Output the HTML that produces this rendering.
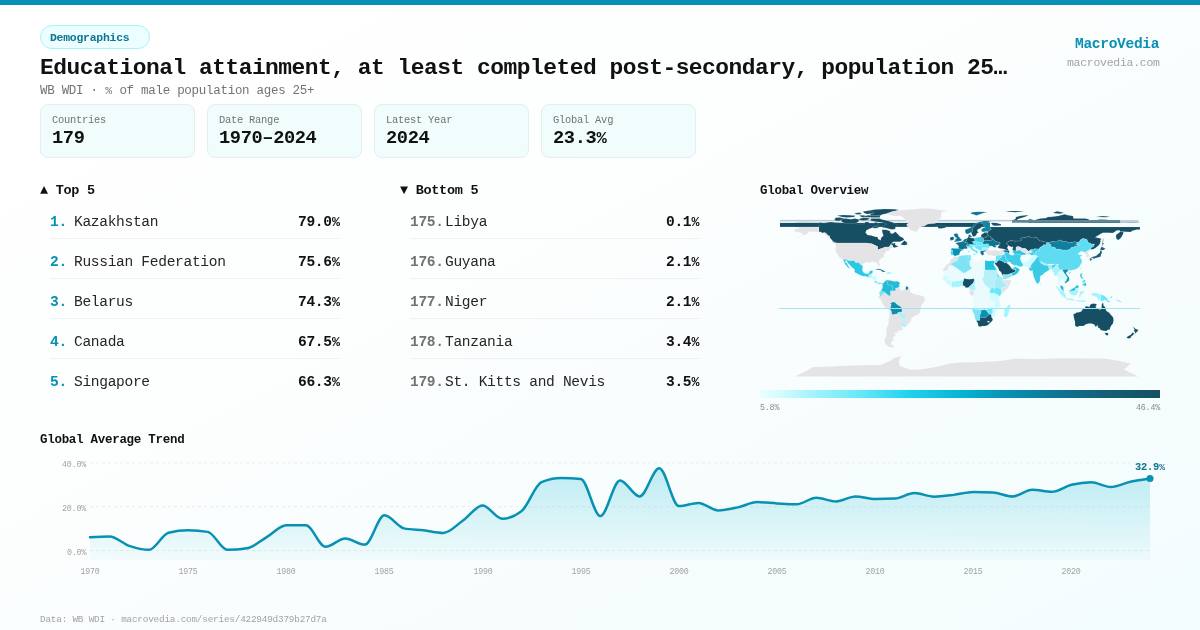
<!DOCTYPE html>
<html><head><meta charset="utf-8"><title>MacroVedia</title>
<style>
html,body{margin:0;padding:0;}
.t{will-change:transform;}
body{width:1200px;height:630px;overflow:hidden;position:relative;font-family:"Liberation Mono";background:linear-gradient(to bottom right,#ffffff 0%,#fdfefe 40%,#f8fdfd 60%,#f3fcfd 100%);}
</style></head><body>
<div style="position:absolute;left:0;top:0;width:1200px;height:5px;background:#0891b2"></div>
<div style="position:absolute;left:40px;top:25px;width:108px;height:22px;border:1px solid #a5f3fc;border-radius:12px;background:#ecfeff"></div>
<div class="t" style="position:absolute;top:32.24px;font-size:11.44px;line-height:11.44px;letter-spacing:-0.243px;color:#0e7490;font-weight:700;white-space:pre;left:50.00px;">Demographics</div>
<div class="t" style="position:absolute;top:56.97px;font-size:22.88px;line-height:22.88px;letter-spacing:-0.485px;color:#111111;font-weight:700;white-space:pre;left:40.00px;">Educational attainment, at least completed post-secondary, population 25…</div>
<div class="t" style="position:absolute;top:85.24px;font-size:12.48px;line-height:12.48px;letter-spacing:-0.265px;color:#737373;font-weight:400;white-space:pre;left:40.00px;">WB WDI · <span style="display:inline-block;width:7.22px;font-size:11.48px;letter-spacing:0;text-align:center">%</span> of male population ages 25+</div>
<div class="t" style="position:absolute;top:36.85px;font-size:14.56px;line-height:14.56px;letter-spacing:-0.309px;color:#0891b2;font-weight:700;white-space:pre;right:40.31px;">MacroVedia</div>
<div class="t" style="position:absolute;top:57.24px;font-size:11.44px;line-height:11.44px;letter-spacing:-0.243px;color:#a3a3a3;font-weight:400;white-space:pre;right:40.24px;">macrovedia.com</div>
<div style="position:absolute;left:39.6px;top:104.3px;width:153.4px;height:51.4px;border:1px solid #e4eeee;border-radius:8px;background:#f0fdfc"></div>
<div class="t" style="position:absolute;top:115.03px;font-size:10.40px;line-height:10.40px;letter-spacing:-0.221px;color:#737373;font-weight:400;white-space:pre;left:52.00px;">Countries</div>
<div class="t" style="position:absolute;top:128.66px;font-size:18.72px;line-height:18.72px;letter-spacing:-0.397px;color:#111111;font-weight:700;white-space:pre;left:52.00px;">179</div>
<div style="position:absolute;left:206.6px;top:104.3px;width:153.4px;height:51.4px;border:1px solid #e4eeee;border-radius:8px;background:#f0fdfc"></div>
<div class="t" style="position:absolute;top:115.03px;font-size:10.40px;line-height:10.40px;letter-spacing:-0.221px;color:#737373;font-weight:400;white-space:pre;left:219.00px;">Date Range</div>
<div class="t" style="position:absolute;top:128.66px;font-size:18.72px;line-height:18.72px;letter-spacing:-0.397px;color:#111111;font-weight:700;white-space:pre;left:219.00px;">1970–2024</div>
<div style="position:absolute;left:373.6px;top:104.3px;width:153.4px;height:51.4px;border:1px solid #e4eeee;border-radius:8px;background:#f0fdfc"></div>
<div class="t" style="position:absolute;top:115.03px;font-size:10.40px;line-height:10.40px;letter-spacing:-0.221px;color:#737373;font-weight:400;white-space:pre;left:386.00px;">Latest Year</div>
<div class="t" style="position:absolute;top:128.66px;font-size:18.72px;line-height:18.72px;letter-spacing:-0.397px;color:#111111;font-weight:700;white-space:pre;left:386.00px;">2024</div>
<div style="position:absolute;left:540.6px;top:104.3px;width:153.4px;height:51.4px;border:1px solid #e4eeee;border-radius:8px;background:#f0fdfc"></div>
<div class="t" style="position:absolute;top:115.03px;font-size:10.40px;line-height:10.40px;letter-spacing:-0.221px;color:#737373;font-weight:400;white-space:pre;left:553.00px;">Global Avg</div>
<div class="t" style="position:absolute;top:128.66px;font-size:18.72px;line-height:18.72px;letter-spacing:-0.397px;color:#111111;font-weight:700;white-space:pre;left:553.00px;">23.3<span style="display:inline-block;width:10.84px;font-size:17.22px;letter-spacing:0;text-align:center">%</span></div>
<div class="t" style="position:absolute;top:183.64px;font-size:13.52px;line-height:13.52px;letter-spacing:-0.287px;color:#111111;font-weight:700;white-space:pre;left:40.00px;">▲ Top 5</div>
<div class="t" style="position:absolute;top:183.64px;font-size:13.52px;line-height:13.52px;letter-spacing:-0.287px;color:#111111;font-weight:700;white-space:pre;left:400.00px;">▼ Bottom 5</div>
<div class="t" style="position:absolute;top:214.85px;font-size:14.56px;line-height:14.56px;letter-spacing:-0.309px;color:#0891b2;font-weight:700;white-space:pre;left:50.00px;">1.</div>
<div class="t" style="position:absolute;top:214.85px;font-size:14.56px;line-height:14.56px;letter-spacing:-0.309px;color:#262626;font-weight:400;white-space:pre;left:74.00px;">Kazakhstan</div>
<div class="t" style="position:absolute;top:214.85px;font-size:14.56px;line-height:14.56px;letter-spacing:-0.309px;color:#111111;font-weight:700;white-space:pre;right:860.31px;">79.0<span style="display:inline-block;width:8.43px;font-size:13.40px;letter-spacing:0;text-align:center">%</span></div>
<div style="position:absolute;left:50px;top:237.5px;width:290px;height:1px;background:#f1f1f1"></div>
<div class="t" style="position:absolute;top:254.85px;font-size:14.56px;line-height:14.56px;letter-spacing:-0.309px;color:#0891b2;font-weight:700;white-space:pre;left:50.00px;">2.</div>
<div class="t" style="position:absolute;top:254.85px;font-size:14.56px;line-height:14.56px;letter-spacing:-0.309px;color:#262626;font-weight:400;white-space:pre;left:74.00px;">Russian Federation</div>
<div class="t" style="position:absolute;top:254.85px;font-size:14.56px;line-height:14.56px;letter-spacing:-0.309px;color:#111111;font-weight:700;white-space:pre;right:860.31px;">75.6<span style="display:inline-block;width:8.43px;font-size:13.40px;letter-spacing:0;text-align:center">%</span></div>
<div style="position:absolute;left:50px;top:277.5px;width:290px;height:1px;background:#f1f1f1"></div>
<div class="t" style="position:absolute;top:294.85px;font-size:14.56px;line-height:14.56px;letter-spacing:-0.309px;color:#0891b2;font-weight:700;white-space:pre;left:50.00px;">3.</div>
<div class="t" style="position:absolute;top:294.85px;font-size:14.56px;line-height:14.56px;letter-spacing:-0.309px;color:#262626;font-weight:400;white-space:pre;left:74.00px;">Belarus</div>
<div class="t" style="position:absolute;top:294.85px;font-size:14.56px;line-height:14.56px;letter-spacing:-0.309px;color:#111111;font-weight:700;white-space:pre;right:860.31px;">74.3<span style="display:inline-block;width:8.43px;font-size:13.40px;letter-spacing:0;text-align:center">%</span></div>
<div style="position:absolute;left:50px;top:317.5px;width:290px;height:1px;background:#f1f1f1"></div>
<div class="t" style="position:absolute;top:334.85px;font-size:14.56px;line-height:14.56px;letter-spacing:-0.309px;color:#0891b2;font-weight:700;white-space:pre;left:50.00px;">4.</div>
<div class="t" style="position:absolute;top:334.85px;font-size:14.56px;line-height:14.56px;letter-spacing:-0.309px;color:#262626;font-weight:400;white-space:pre;left:74.00px;">Canada</div>
<div class="t" style="position:absolute;top:334.85px;font-size:14.56px;line-height:14.56px;letter-spacing:-0.309px;color:#111111;font-weight:700;white-space:pre;right:860.31px;">67.5<span style="display:inline-block;width:8.43px;font-size:13.40px;letter-spacing:0;text-align:center">%</span></div>
<div style="position:absolute;left:50px;top:357.5px;width:290px;height:1px;background:#f1f1f1"></div>
<div class="t" style="position:absolute;top:374.85px;font-size:14.56px;line-height:14.56px;letter-spacing:-0.309px;color:#0891b2;font-weight:700;white-space:pre;left:50.00px;">5.</div>
<div class="t" style="position:absolute;top:374.85px;font-size:14.56px;line-height:14.56px;letter-spacing:-0.309px;color:#262626;font-weight:400;white-space:pre;left:74.00px;">Singapore</div>
<div class="t" style="position:absolute;top:374.85px;font-size:14.56px;line-height:14.56px;letter-spacing:-0.309px;color:#111111;font-weight:700;white-space:pre;right:860.31px;">66.3<span style="display:inline-block;width:8.43px;font-size:13.40px;letter-spacing:0;text-align:center">%</span></div>
<div class="t" style="position:absolute;top:214.85px;font-size:14.56px;line-height:14.56px;letter-spacing:-0.309px;color:#737373;font-weight:700;white-space:pre;left:410.00px;">175.</div>
<div class="t" style="position:absolute;top:214.85px;font-size:14.56px;line-height:14.56px;letter-spacing:-0.309px;color:#262626;font-weight:400;white-space:pre;left:445.22px;">Libya</div>
<div class="t" style="position:absolute;top:214.85px;font-size:14.56px;line-height:14.56px;letter-spacing:-0.309px;color:#111111;font-weight:700;white-space:pre;right:500.31px;">0.1<span style="display:inline-block;width:8.43px;font-size:13.40px;letter-spacing:0;text-align:center">%</span></div>
<div style="position:absolute;left:410px;top:237.5px;width:290px;height:1px;background:#f1f1f1"></div>
<div class="t" style="position:absolute;top:254.85px;font-size:14.56px;line-height:14.56px;letter-spacing:-0.309px;color:#737373;font-weight:700;white-space:pre;left:410.00px;">176.</div>
<div class="t" style="position:absolute;top:254.85px;font-size:14.56px;line-height:14.56px;letter-spacing:-0.309px;color:#262626;font-weight:400;white-space:pre;left:445.22px;">Guyana</div>
<div class="t" style="position:absolute;top:254.85px;font-size:14.56px;line-height:14.56px;letter-spacing:-0.309px;color:#111111;font-weight:700;white-space:pre;right:500.31px;">2.1<span style="display:inline-block;width:8.43px;font-size:13.40px;letter-spacing:0;text-align:center">%</span></div>
<div style="position:absolute;left:410px;top:277.5px;width:290px;height:1px;background:#f1f1f1"></div>
<div class="t" style="position:absolute;top:294.85px;font-size:14.56px;line-height:14.56px;letter-spacing:-0.309px;color:#737373;font-weight:700;white-space:pre;left:410.00px;">177.</div>
<div class="t" style="position:absolute;top:294.85px;font-size:14.56px;line-height:14.56px;letter-spacing:-0.309px;color:#262626;font-weight:400;white-space:pre;left:445.22px;">Niger</div>
<div class="t" style="position:absolute;top:294.85px;font-size:14.56px;line-height:14.56px;letter-spacing:-0.309px;color:#111111;font-weight:700;white-space:pre;right:500.31px;">2.1<span style="display:inline-block;width:8.43px;font-size:13.40px;letter-spacing:0;text-align:center">%</span></div>
<div style="position:absolute;left:410px;top:317.5px;width:290px;height:1px;background:#f1f1f1"></div>
<div class="t" style="position:absolute;top:334.85px;font-size:14.56px;line-height:14.56px;letter-spacing:-0.309px;color:#737373;font-weight:700;white-space:pre;left:410.00px;">178.</div>
<div class="t" style="position:absolute;top:334.85px;font-size:14.56px;line-height:14.56px;letter-spacing:-0.309px;color:#262626;font-weight:400;white-space:pre;left:445.22px;">Tanzania</div>
<div class="t" style="position:absolute;top:334.85px;font-size:14.56px;line-height:14.56px;letter-spacing:-0.309px;color:#111111;font-weight:700;white-space:pre;right:500.31px;">3.4<span style="display:inline-block;width:8.43px;font-size:13.40px;letter-spacing:0;text-align:center">%</span></div>
<div style="position:absolute;left:410px;top:357.5px;width:290px;height:1px;background:#f1f1f1"></div>
<div class="t" style="position:absolute;top:374.85px;font-size:14.56px;line-height:14.56px;letter-spacing:-0.309px;color:#737373;font-weight:700;white-space:pre;left:410.00px;">179.</div>
<div class="t" style="position:absolute;top:374.85px;font-size:14.56px;line-height:14.56px;letter-spacing:-0.309px;color:#262626;font-weight:400;white-space:pre;left:445.22px;">St. Kitts and Nevis</div>
<div class="t" style="position:absolute;top:374.85px;font-size:14.56px;line-height:14.56px;letter-spacing:-0.309px;color:#111111;font-weight:700;white-space:pre;right:500.31px;">3.5<span style="display:inline-block;width:8.43px;font-size:13.40px;letter-spacing:0;text-align:center">%</span></div>
<div class="t" style="position:absolute;top:185.44px;font-size:12.48px;line-height:12.48px;letter-spacing:-0.265px;color:#111111;font-weight:700;white-space:pre;left:760.00px;">Global Overview</div>
<div style="position:absolute;left:760px;top:390px;width:400px;height:8px;background:linear-gradient(90deg,#ecfeff 0%,#cffafe 6%,#a5f3fc 13%,#67e8f9 25%,#22d3ee 37%,#06b6d4 50%,#0891b2 62%,#0e7490 75%,#155e75 87%,#164e63 100%)"></div>
<div class="t" style="position:absolute;top:403.63px;font-size:8.32px;line-height:8.32px;letter-spacing:-0.176px;color:#8a8a8a;font-weight:400;white-space:pre;left:760.00px;">5.8%</div>
<div class="t" style="position:absolute;top:403.63px;font-size:8.32px;line-height:8.32px;letter-spacing:-0.176px;color:#8a8a8a;font-weight:400;white-space:pre;right:40.18px;">46.4%</div>
<div class="t" style="position:absolute;top:434.44px;font-size:12.48px;line-height:12.48px;letter-spacing:-0.265px;color:#111111;font-weight:700;white-space:pre;left:40.00px;">Global Average Trend</div>
<svg style="position:absolute;left:0;top:0" width="1200" height="630" viewBox="0 0 1200 630">
<defs><linearGradient id="ag" x1="0" y1="0" x2="0" y2="1"><stop offset="0" stop-color="#06b6d4" stop-opacity="0.24"/><stop offset="1" stop-color="#06b6d4" stop-opacity="0.03"/></linearGradient></defs>
<line x1="90" x2="1150" y1="550.5" y2="550.5" stroke="#ebebeb" stroke-width="1" stroke-dasharray="3,3"/>
<line x1="90" x2="1150" y1="506.7" y2="506.7" stroke="#ebebeb" stroke-width="1" stroke-dasharray="3,3"/>
<line x1="90" x2="1150" y1="462.9" y2="462.9" stroke="#ebebeb" stroke-width="1" stroke-dasharray="3,3"/>
<path d="M90.00,537.14C96.54,536.81,103.09,536.48,109.63,536.48C116.17,536.48,122.72,543.67,129.26,545.90C135.80,548.13,142.35,549.84,148.89,549.84C155.43,549.84,161.98,534.37,168.52,532.76C175.06,531.15,181.60,530.35,188.15,530.35C194.69,530.35,201.23,530.86,207.78,531.88C214.32,532.91,220.86,549.84,227.41,549.84C233.95,549.84,240.49,549.33,247.04,548.31C253.58,547.29,260.12,540.97,266.67,537.14C273.21,533.31,279.75,525.32,286.30,525.32C292.84,525.32,299.38,525.32,305.93,525.32C312.47,525.32,319.01,546.78,325.56,546.78C332.10,546.78,338.64,538.46,345.19,538.46C351.73,538.46,358.27,544.59,364.81,544.59C371.36,544.59,377.90,515.24,384.44,515.24C390.99,515.24,397.53,527.07,404.07,528.38C410.62,529.69,417.16,529.59,423.70,530.35C430.25,531.12,436.79,532.98,443.33,532.98C449.88,532.98,456.42,525.06,462.96,520.50C469.51,515.93,476.05,505.61,482.59,505.61C489.14,505.61,495.68,518.75,502.22,518.75C508.77,518.75,515.31,516.12,521.85,510.86C528.40,505.60,534.94,484.95,541.48,482.17C548.02,479.40,554.57,478.01,561.11,478.01C567.65,478.01,574.20,478.30,580.74,478.89C587.28,479.47,593.83,516.12,600.37,516.12C606.91,516.12,613.46,480.42,620.00,480.42C626.54,480.42,633.09,496.41,639.63,496.41C646.17,496.41,652.72,468.16,659.26,468.16C665.80,468.16,672.35,506.04,678.89,506.04C685.43,506.04,691.98,502.98,698.52,502.98C705.06,502.98,711.60,510.42,718.15,510.42C724.69,510.42,731.23,508.74,737.78,507.36C744.32,505.97,750.86,502.10,757.41,502.10C763.95,502.10,770.49,503.05,777.04,503.42C783.58,503.78,790.12,504.29,796.67,504.29C803.21,504.29,809.75,497.72,816.30,497.72C822.84,497.72,829.38,501.44,835.93,501.44C842.47,501.44,849.01,496.41,855.56,496.41C862.10,496.41,868.64,499.04,875.19,499.04C881.73,499.04,888.27,498.89,894.81,498.60C901.36,498.30,907.90,493.12,914.44,493.12C920.99,493.12,927.53,496.63,934.07,496.63C940.62,496.63,947.16,495.64,953.70,494.87C960.25,494.11,966.79,492.03,973.33,492.03C979.88,492.03,986.42,492.17,992.96,492.47C999.51,492.76,1006.05,496.41,1012.59,496.41C1019.14,496.41,1025.68,489.84,1032.22,489.84C1038.77,489.84,1045.31,491.81,1051.85,491.81C1058.40,491.81,1064.94,486.41,1071.48,484.80C1078.02,483.19,1084.57,482.17,1091.11,482.17C1097.65,482.17,1104.20,486.99,1110.74,486.99C1117.28,486.99,1123.83,483.16,1130.37,481.73C1136.91,480.31,1143.46,479.38,1150.00,478.45L1150,560L90,560Z" fill="url(#ag)"/>
<path d="M90.00,537.14C96.54,536.81,103.09,536.48,109.63,536.48C116.17,536.48,122.72,543.67,129.26,545.90C135.80,548.13,142.35,549.84,148.89,549.84C155.43,549.84,161.98,534.37,168.52,532.76C175.06,531.15,181.60,530.35,188.15,530.35C194.69,530.35,201.23,530.86,207.78,531.88C214.32,532.91,220.86,549.84,227.41,549.84C233.95,549.84,240.49,549.33,247.04,548.31C253.58,547.29,260.12,540.97,266.67,537.14C273.21,533.31,279.75,525.32,286.30,525.32C292.84,525.32,299.38,525.32,305.93,525.32C312.47,525.32,319.01,546.78,325.56,546.78C332.10,546.78,338.64,538.46,345.19,538.46C351.73,538.46,358.27,544.59,364.81,544.59C371.36,544.59,377.90,515.24,384.44,515.24C390.99,515.24,397.53,527.07,404.07,528.38C410.62,529.69,417.16,529.59,423.70,530.35C430.25,531.12,436.79,532.98,443.33,532.98C449.88,532.98,456.42,525.06,462.96,520.50C469.51,515.93,476.05,505.61,482.59,505.61C489.14,505.61,495.68,518.75,502.22,518.75C508.77,518.75,515.31,516.12,521.85,510.86C528.40,505.60,534.94,484.95,541.48,482.17C548.02,479.40,554.57,478.01,561.11,478.01C567.65,478.01,574.20,478.30,580.74,478.89C587.28,479.47,593.83,516.12,600.37,516.12C606.91,516.12,613.46,480.42,620.00,480.42C626.54,480.42,633.09,496.41,639.63,496.41C646.17,496.41,652.72,468.16,659.26,468.16C665.80,468.16,672.35,506.04,678.89,506.04C685.43,506.04,691.98,502.98,698.52,502.98C705.06,502.98,711.60,510.42,718.15,510.42C724.69,510.42,731.23,508.74,737.78,507.36C744.32,505.97,750.86,502.10,757.41,502.10C763.95,502.10,770.49,503.05,777.04,503.42C783.58,503.78,790.12,504.29,796.67,504.29C803.21,504.29,809.75,497.72,816.30,497.72C822.84,497.72,829.38,501.44,835.93,501.44C842.47,501.44,849.01,496.41,855.56,496.41C862.10,496.41,868.64,499.04,875.19,499.04C881.73,499.04,888.27,498.89,894.81,498.60C901.36,498.30,907.90,493.12,914.44,493.12C920.99,493.12,927.53,496.63,934.07,496.63C940.62,496.63,947.16,495.64,953.70,494.87C960.25,494.11,966.79,492.03,973.33,492.03C979.88,492.03,986.42,492.17,992.96,492.47C999.51,492.76,1006.05,496.41,1012.59,496.41C1019.14,496.41,1025.68,489.84,1032.22,489.84C1038.77,489.84,1045.31,491.81,1051.85,491.81C1058.40,491.81,1064.94,486.41,1071.48,484.80C1078.02,483.19,1084.57,482.17,1091.11,482.17C1097.65,482.17,1104.20,486.99,1110.74,486.99C1117.28,486.99,1123.83,483.16,1130.37,481.73C1136.91,480.31,1143.46,479.38,1150.00,478.45" fill="none" stroke="#0891b2" stroke-width="2.5" stroke-linejoin="round" stroke-linecap="round"/>
<circle cx="1150.00" cy="478.45" r="3.5" fill="#0891b2"/>
</svg>
<div class="t" style="position:absolute;top:548.73px;font-size:8.32px;line-height:8.32px;letter-spacing:-0.176px;color:#a3a3a3;font-weight:400;white-space:pre;right:1114.18px;">0.0%</div>
<div class="t" style="position:absolute;top:504.93px;font-size:8.32px;line-height:8.32px;letter-spacing:-0.176px;color:#a3a3a3;font-weight:400;white-space:pre;right:1114.18px;">20.0%</div>
<div class="t" style="position:absolute;top:461.13px;font-size:8.32px;line-height:8.32px;letter-spacing:-0.176px;color:#a3a3a3;font-weight:400;white-space:pre;right:1114.18px;">40.0%</div>
<div class="t" style="position:absolute;top:567.63px;font-size:8.32px;line-height:8.32px;letter-spacing:-0.176px;color:#a3a3a3;font-weight:400;white-space:pre;left:-510.00px;width:1200px;text-align:center;">1970</div>
<div class="t" style="position:absolute;top:567.63px;font-size:8.32px;line-height:8.32px;letter-spacing:-0.176px;color:#a3a3a3;font-weight:400;white-space:pre;left:-411.85px;width:1200px;text-align:center;">1975</div>
<div class="t" style="position:absolute;top:567.63px;font-size:8.32px;line-height:8.32px;letter-spacing:-0.176px;color:#a3a3a3;font-weight:400;white-space:pre;left:-313.70px;width:1200px;text-align:center;">1980</div>
<div class="t" style="position:absolute;top:567.63px;font-size:8.32px;line-height:8.32px;letter-spacing:-0.176px;color:#a3a3a3;font-weight:400;white-space:pre;left:-215.56px;width:1200px;text-align:center;">1985</div>
<div class="t" style="position:absolute;top:567.63px;font-size:8.32px;line-height:8.32px;letter-spacing:-0.176px;color:#a3a3a3;font-weight:400;white-space:pre;left:-117.41px;width:1200px;text-align:center;">1990</div>
<div class="t" style="position:absolute;top:567.63px;font-size:8.32px;line-height:8.32px;letter-spacing:-0.176px;color:#a3a3a3;font-weight:400;white-space:pre;left:-19.26px;width:1200px;text-align:center;">1995</div>
<div class="t" style="position:absolute;top:567.63px;font-size:8.32px;line-height:8.32px;letter-spacing:-0.176px;color:#a3a3a3;font-weight:400;white-space:pre;left:78.89px;width:1200px;text-align:center;">2000</div>
<div class="t" style="position:absolute;top:567.63px;font-size:8.32px;line-height:8.32px;letter-spacing:-0.176px;color:#a3a3a3;font-weight:400;white-space:pre;left:177.04px;width:1200px;text-align:center;">2005</div>
<div class="t" style="position:absolute;top:567.63px;font-size:8.32px;line-height:8.32px;letter-spacing:-0.176px;color:#a3a3a3;font-weight:400;white-space:pre;left:275.19px;width:1200px;text-align:center;">2010</div>
<div class="t" style="position:absolute;top:567.63px;font-size:8.32px;line-height:8.32px;letter-spacing:-0.176px;color:#a3a3a3;font-weight:400;white-space:pre;left:373.33px;width:1200px;text-align:center;">2015</div>
<div class="t" style="position:absolute;top:567.63px;font-size:8.32px;line-height:8.32px;letter-spacing:-0.176px;color:#a3a3a3;font-weight:400;white-space:pre;left:471.48px;width:1200px;text-align:center;">2020</div>
<div class="t" style="position:absolute;top:462.03px;font-size:10.40px;line-height:10.40px;letter-spacing:-0.221px;color:#0e7490;font-weight:700;white-space:pre;left:550.00px;width:1200px;text-align:center;">32.9<span style="display:inline-block;width:6.02px;font-size:9.57px;letter-spacing:0;text-align:center">%</span></div>
<div class="t" style="position:absolute;top:614.83px;font-size:9.36px;line-height:9.36px;letter-spacing:-0.198px;color:#a3a3a3;font-weight:400;white-space:pre;left:40.00px;">Data: WB WDI · macrovedia.com/series/422949d379b27d7a</div>

<svg style="position:absolute;left:0;top:0" width="1200" height="630" viewBox="0 0 1200 630">
<path d="M819.0,222.4L817.0,221.9L812.0,221.7L808.0,221.2L803.5,220.7L800.0,221.5L797.0,222.2L794.0,223.1L796.5,224.9L795.0,225.5L792.0,226.4L795.5,227.3L799.0,227.5L799.0,228.5L795.5,229.0L794.0,230.5L795.0,231.5L798.0,232.1L802.0,233.3L803.0,234.5L802.0,235.2L798.0,236.2L795.2,237.5L799.0,236.5L804.0,235.0L806.5,234.5L807.0,233.2L808.5,232.5L810.0,231.0L811.0,232.0L813.5,231.6L816.0,232.0L819.0,232.0L822.0,233.0L824.0,233.7L826.0,235.0L827.0,236.5L828.5,237.0L829.9,237.2L830.0,236.1L828.2,235.4L826.5,233.6L824.5,232.3L822.5,232.9L821.0,231.9L819.0,231.7Z" fill="#e4e4e7" stroke="#ffffff" stroke-width="0.3" stroke-opacity="0.4"/>
<rect x="780.00" y="222.90" width="210.00" height="4.00" fill="#164e63"/>
<rect x="780.00" y="219.90" width="232.00" height="1.50" fill="#b9cbd2"/>
<path d="M819.0,222.4L824.0,223.1L827.0,222.5L831.0,222.0L835.0,222.5L840.0,222.7L845.0,223.2L850.0,223.8L854.0,223.2L859.0,224.3L862.0,224.0L864.0,224.0L865.5,222.0L868.0,222.0L870.0,223.5L874.0,223.5L875.5,222.2L878.0,223.0L878.7,225.0L874.0,226.0L873.0,227.4L869.5,228.7L866.5,230.2L865.5,232.5L867.5,235.0L871.5,235.5L875.0,236.7L877.7,237.0L878.0,239.0L880.7,240.3L881.0,238.0L883.5,235.5L882.5,233.0L882.0,229.7L886.0,229.7L890.0,231.0L890.5,233.2L892.5,233.7L895.5,231.7L898.2,234.5L900.0,236.5L902.5,237.4L904.3,239.5L903.0,240.5L900.0,241.8L893.5,241.8L891.0,243.6L895.5,243.0L895.0,244.0L895.3,245.0L898.5,246.5L894.0,247.8L893.0,246.8L892.2,244.9L890.8,244.6L889.0,247.0L885.0,247.0L883.5,247.8L880.5,248.8L877.5,250.0L877.8,246.7L875.5,245.5L871.6,243.7L864.8,243.0L837.0,243.0L835.5,242.5L833.0,241.5L831.5,239.5L829.5,237.5L829.9,237.2L830.0,236.1L828.2,235.4L826.5,233.6L824.5,232.3L822.5,232.9L821.0,231.9L819.0,231.7Z" fill="#164e63" stroke="#ffffff" stroke-width="0.3" stroke-opacity="0.4"/>
<path d="M881.0,219.2L889.0,221.2L893.0,222.5L898.0,225.0L897.5,226.5L895.0,227.5L895.5,229.0L891.5,229.5L888.0,228.4L885.0,227.7L882.0,227.5L884.0,225.5L887.0,224.5L886.5,223.7L882.0,222.5L875.0,221.5L870.5,220.5L871.0,218.5L876.0,218.5L880.0,218.4Z" fill="#164e63" stroke="#ffffff" stroke-width="0.3" stroke-opacity="0.4"/>
<path d="M834.5,220.0L835.5,217.7L839.5,217.6L844.5,218.5L842.0,219.5L839.5,220.7L836.5,220.8Z" fill="#164e63" stroke="#ffffff" stroke-width="0.3" stroke-opacity="0.4"/>
<path d="M841.0,220.5L842.5,219.0L845.5,218.6L851.0,219.2L855.0,218.5L859.0,219.5L858.5,221.5L856.0,223.2L852.0,223.3L847.0,223.5L842.5,222.5Z" fill="#164e63" stroke="#ffffff" stroke-width="0.3" stroke-opacity="0.4"/>
<path d="M837.0,215.5L843.0,215.0L850.0,215.3L855.5,215.7L854.0,217.0L847.0,217.5L842.0,217.0Z" fill="#164e63" stroke="#ffffff" stroke-width="0.3" stroke-opacity="0.4"/>
<path d="M859.0,215.5L863.0,215.2L867.0,216.0L867.0,217.5L862.0,217.2Z" fill="#164e63" stroke="#ffffff" stroke-width="0.3" stroke-opacity="0.4"/>
<path d="M864.0,216.5L868.0,215.2L876.0,215.5L880.0,215.8L880.0,217.4L872.0,217.5L868.0,217.2Z" fill="#164e63" stroke="#ffffff" stroke-width="0.3" stroke-opacity="0.4"/>
<path d="M870.0,215.5L880.0,215.8L882.0,214.5L887.0,213.5L892.0,212.0L899.0,210.0L895.0,209.2L885.0,208.9L875.0,209.5L868.0,210.8L870.0,212.0L874.0,213.0L871.0,213.8Z" fill="#164e63" stroke="#ffffff" stroke-width="0.3" stroke-opacity="0.4"/>
<path d="M863.0,211.5L868.0,210.8L874.0,211.8L873.0,213.5L867.0,214.0L864.0,213.0Z" fill="#164e63" stroke="#ffffff" stroke-width="0.3" stroke-opacity="0.4"/>
<path d="M854.0,213.2L860.0,212.5L862.0,214.0L857.0,214.5Z" fill="#164e63" stroke="#ffffff" stroke-width="0.3" stroke-opacity="0.4"/>
<path d="M858.5,219.2L862.0,218.0L868.0,218.0L870.0,219.0L867.0,220.0L863.5,220.5L860.0,220.0Z" fill="#164e63" stroke="#ffffff" stroke-width="0.3" stroke-opacity="0.4"/>
<path d="M874.0,226.0L879.5,228.0L874.0,228.2L872.7,227.2Z" fill="#164e63" stroke="#ffffff" stroke-width="0.3" stroke-opacity="0.4"/>
<path d="M900.5,244.4L904.5,240.4L907.0,242.5L907.3,244.5L904.5,245.2Z" fill="#164e63" stroke="#ffffff" stroke-width="0.3" stroke-opacity="0.4"/>
<path d="M831.8,241.2L836.7,243.6L834.5,243.1Z" fill="#164e63" stroke="#ffffff" stroke-width="0.3" stroke-opacity="0.4"/>
<path d="M835.3,243.6L836.0,246.0L835.5,250.0L836.2,252.5L837.6,254.5L839.4,257.5L842.9,259.5L845.3,259.3L849.0,260.7L851.8,260.7L853.5,260.2L855.5,262.4L857.0,263.0L858.6,262.2L860.5,264.5L862.8,266.1L862.6,264.2L865.3,262.6L870.0,262.8L871.5,261.6L875.0,262.3L877.0,263.0L877.4,264.5L878.9,266.8L880.0,265.3L879.5,263.5L878.6,261.3L880.8,258.8L884.5,256.7L883.7,255.0L886.0,251.5L890.0,250.3L889.4,248.9L893.0,247.2L892.2,244.9L890.8,244.6L889.0,247.0L885.0,247.0L883.5,247.8L880.5,248.8L877.5,250.0L877.8,246.7L875.5,245.5L871.6,243.7L864.8,243.0L837.0,243.0Z" fill="#e4e4e7" stroke="#ffffff" stroke-width="0.3" stroke-opacity="0.4"/>
<path d="M887.0,213.5L892.0,211.5L899.0,210.2L910.0,209.6L920.0,208.6L932.0,208.5L940.0,210.0L948.0,210.5L942.0,212.0L941.0,215.0L941.5,217.0L938.0,220.0L938.0,221.6L935.0,223.5L928.0,224.0L924.0,226.2L920.0,227.0L918.0,230.0L916.5,232.0L914.0,231.2L911.0,230.5L909.0,228.5L907.5,226.5L906.5,224.5L909.0,222.5L906.0,221.0L905.0,219.5L903.0,217.5L901.0,216.0L893.5,216.0L889.0,214.5Z" fill="#e4e4e7" stroke="#ffffff" stroke-width="0.3" stroke-opacity="0.4"/>
<path d="M935.5,226.5L938.0,225.6L942.0,225.8L945.5,225.8L946.5,227.0L945.0,227.7L941.3,228.6L938.0,228.2L938.0,227.0Z" fill="#164e63" stroke="#ffffff" stroke-width="0.3" stroke-opacity="0.4"/>
<path d="M842.9,259.5L845.3,259.3L849.0,260.7L851.8,260.7L853.5,260.2L855.5,262.4L857.0,263.0L858.6,262.2L860.5,264.5L862.8,266.1L862.3,270.0L863.0,272.0L865.0,273.5L866.0,273.8L868.5,273.5L869.5,272.2L869.7,271.0L872.8,270.5L872.5,273.0L871.7,273.5L870.9,274.2L868.6,274.8L869.1,275.2L867.8,277.5L866.5,276.2L863.5,276.3L861.0,275.4L858.5,274.2L855.0,272.5L854.3,271.2L854.8,269.8L853.5,268.5L851.0,266.5L849.5,264.5L847.8,263.1L847.0,261.0L845.2,260.3L845.5,262.0L847.0,263.5L848.0,265.5L849.5,267.8L850.1,269.1L848.0,267.5L846.0,265.2L845.0,264.0L844.2,261.7Z" fill="#2bc8e3" stroke="#ffffff" stroke-width="0.3" stroke-opacity="0.4"/>
<path d="M867.8,277.5L869.1,275.2L868.6,274.8L870.9,274.2L871.7,273.5L871.8,276.0L870.8,276.9L870.5,278.0L869.5,278.1Z" fill="#a5f3fc" stroke="#ffffff" stroke-width="0.3" stroke-opacity="0.4"/>
<path d="M870.8,276.9L871.8,276.0L876.0,276.0L876.8,277.0L876.5,280.0L876.4,281.1L874.3,280.9L872.5,279.0L870.5,278.0Z" fill="#cffafe" stroke="#ffffff" stroke-width="0.3" stroke-opacity="0.4"/>
<path d="M874.3,280.9L876.4,281.1L878.0,282.8L880.5,282.4L882.6,283.3L882.7,284.5L881.0,283.8L879.5,284.6L878.0,283.8L876.0,283.0L874.1,282.0Z" fill="#7de3f5" stroke="#ffffff" stroke-width="0.3" stroke-opacity="0.4"/>
<path d="M875.0,270.1L878.0,268.8L881.0,269.2L884.3,270.9L885.8,271.7L882.5,272.1L881.5,270.5L878.5,269.8Z" fill="#0e7490" stroke="#ffffff" stroke-width="0.3" stroke-opacity="0.4"/>
<path d="M885.6,273.5L888.0,272.1L891.0,272.1L891.6,273.5L888.0,273.9Z" fill="#a5f3fc" stroke="#ffffff" stroke-width="0.3" stroke-opacity="0.4"/>
<path d="M892.8,273.5L894.4,273.6L894.2,274.1L892.8,274.0Z" fill="#a5f3fc" stroke="#ffffff" stroke-width="0.3" stroke-opacity="0.4"/>
<path d="M881.7,273.5L883.8,273.7L883.0,274.3Z" fill="#e4e4e7" stroke="#ffffff" stroke-width="0.3" stroke-opacity="0.4"/>
<path d="M882.6,283.3L884.0,282.7L885.0,281.0L887.5,280.1L888.5,280.2L891.5,280.8L894.0,281.4L897.0,281.3L899.0,282.0L899.8,283.4L902.8,286.0L906.0,286.3L908.0,287.1L909.0,288.0L910.0,290.2L910.5,292.0L912.0,293.0L915.5,294.5L919.0,295.0L921.5,295.7L924.7,297.3L925.0,300.5L923.0,303.0L921.1,305.5L920.7,309.8L919.1,313.9L917.0,315.0L915.0,315.8L911.5,318.0L911.2,320.5L909.3,323.0L906.6,325.8L905.1,326.9L903.0,326.5L901.6,325.9L902.4,328.3L902.8,330.3L897.7,331.0L897.8,332.7L895.0,333.0L894.8,334.8L896.1,334.9L892.5,338.3L894.1,339.8L890.8,342.7L891.5,344.3L888.5,345.5L885.5,344.5L884.5,340.5L886.0,336.0L886.7,333.0L886.3,329.0L888.5,324.0L888.6,320.0L889.5,316.0L889.6,310.4L887.5,309.0L884.0,306.3L882.5,303.5L880.5,299.5L878.7,298.0L878.7,296.3L879.6,295.4L880.0,294.2L879.0,293.2L879.9,291.2L881.1,290.6L881.0,290.3L882.0,289.0L882.7,287.5L882.5,285.5L882.7,284.5Z" fill="#e4e4e7" stroke="#ffffff" stroke-width="0.3" stroke-opacity="0.4"/>
<path d="M891.4,344.6L894.7,347.0L892.0,347.6L889.0,347.0L886.0,345.0L890.0,344.8Z" fill="#e4e4e7" stroke="#ffffff" stroke-width="0.3" stroke-opacity="0.4"/>
<path d="M882.7,284.5L882.6,283.3L884.0,282.7L885.0,281.0L887.5,280.1L888.5,280.2L887.7,281.0L887.1,282.9L888.0,284.7L889.9,285.0L892.2,285.8L892.6,288.2L892.2,289.5L893.0,290.9L890.1,290.8L890.5,293.0L890.0,296.2L887.5,294.4L884.5,292.1L882.6,291.6L881.0,290.3L882.0,289.0L882.7,287.5L882.5,285.5Z" fill="#22bcd8" stroke="#ffffff" stroke-width="0.3" stroke-opacity="0.4"/>
<path d="M888.5,280.2L891.5,280.8L894.0,281.4L897.0,281.3L899.0,282.0L899.8,283.4L900.2,283.7L899.3,284.6L899.7,286.8L898.5,287.0L897.2,288.0L895.4,287.9L895.8,290.5L893.2,290.8L893.0,290.9L892.2,289.5L892.6,288.2L892.2,285.8L889.9,285.0L888.0,284.7L887.1,282.9L887.7,281.0Z" fill="#22bcd8" stroke="#ffffff" stroke-width="0.3" stroke-opacity="0.4"/>
<path d="M900.2,283.7L902.8,286.0L902.2,287.5L902.0,290.5L900.3,290.2L900.1,289.5L899.7,286.8L899.3,284.6Z" fill="#ecfeff" stroke="#ffffff" stroke-width="0.3" stroke-opacity="0.4"/>
<path d="M902.8,286.0L905.0,286.0L906.0,286.3L905.8,288.5L904.1,290.0L902.2,290.2L902.0,288.0L902.2,287.5Z" fill="#ecfeff" stroke="#ffffff" stroke-width="0.3" stroke-opacity="0.4"/>
<path d="M906.0,286.3L908.0,287.1L908.4,287.8L907.5,289.7L905.8,289.8L905.8,288.5Z" fill="#0e7490" stroke="#ffffff" stroke-width="0.3" stroke-opacity="0.4"/>
<path d="M879.9,291.2L881.1,290.6L882.6,291.6L884.5,292.1L884.8,293.6L882.5,294.5L881.5,295.9L881.0,297.0L879.6,295.4L880.0,294.2L879.0,293.2Z" fill="#7de3f5" stroke="#ffffff" stroke-width="0.3" stroke-opacity="0.4"/>
<path d="M890.4,302.9L891.3,304.5L890.6,307.5L890.1,309.3L891.5,311.2L891.8,313.5L892.9,314.8L895.0,314.1L897.2,314.0L898.0,312.4L901.8,312.2L902.0,308.3L899.5,305.8L898.2,305.5L894.6,302.3L893.4,301.9Z" fill="#0e8fb0" stroke="#ffffff" stroke-width="0.3" stroke-opacity="0.4"/>
<path d="M897.2,314.0L898.0,312.4L901.8,312.2L902.4,314.1L904.2,314.4L905.7,316.0L905.3,318.5L901.4,319.2L902.4,317.6L900.0,316.0L897.3,314.3Z" fill="#a5f3fc" stroke="#ffffff" stroke-width="0.3" stroke-opacity="0.4"/>
<path d="M901.6,325.9L901.6,322.2L903.0,322.1L906.6,325.8L905.1,326.9L903.0,326.5Z" fill="#a5f3fc" stroke="#ffffff" stroke-width="0.3" stroke-opacity="0.4"/>
<path d="M965.0,230.0L965.5,233.0L967.0,234.0L968.5,233.7L970.5,232.5L971.5,233.0L972.3,231.5L972.5,230.5L972.0,228.5L974.0,227.0L975.5,225.5L976.5,224.0L979.0,223.5L981.0,223.0L984.0,223.3L988.0,223.0L989.0,222.2L991.0,222.0L988.0,221.0L984.0,221.0L979.0,222.0L975.0,223.5L973.0,225.0L972.0,226.5L970.0,228.0L967.0,229.0Z" fill="#0e7490" stroke="#ffffff" stroke-width="0.3" stroke-opacity="0.4"/>
<path d="M971.5,233.0L972.5,236.0L973.0,236.6L974.3,236.4L976.0,235.5L976.5,234.5L977.0,233.2L978.8,232.4L977.3,231.3L977.3,229.7L980.5,228.2L982.0,226.5L984.0,226.2L983.5,224.2L980.0,223.0L978.0,223.5L976.5,224.0L975.5,225.5L974.0,227.0L972.0,228.5L972.5,230.5L972.3,231.5Z" fill="#164e63" stroke="#ffffff" stroke-width="0.3" stroke-opacity="0.4"/>
<path d="M981.5,231.3L983.0,232.1L986.0,231.6L988.0,231.5L991.5,229.2L990.0,228.0L990.0,226.5L989.5,225.0L989.0,222.3L988.0,222.0L986.0,222.2L984.0,223.3L981.0,223.0L983.5,224.2L984.0,226.2L985.5,227.0L982.5,228.5L981.3,229.5Z" fill="#0e87a6" stroke="#ffffff" stroke-width="0.3" stroke-opacity="0.4"/>
<path d="M968.1,236.5L968.6,234.9L970.5,234.3L970.5,235.5L972.5,236.5L970.0,237.2L968.6,237.1Z" fill="#0e7490" stroke="#ffffff" stroke-width="0.3" stroke-opacity="0.4"/>
<path d="M954.3,241.9L961.4,240.8L961.7,239.3L960.2,238.6L959.5,237.5L958.4,236.4L957.9,234.3L956.9,233.4L955.0,233.4L953.8,234.5L954.4,236.0L955.2,237.2L956.7,237.7L957.0,238.6L955.4,238.7L955.8,240.4L954.7,240.3Z" fill="#0e7490" stroke="#ffffff" stroke-width="0.3" stroke-opacity="0.4"/>
<path d="M953.9,239.5L953.8,238.1L954.2,237.4L952.5,236.7L951.5,237.1L950.0,237.8L950.0,238.7L950.5,240.0L949.7,240.4L951.8,240.3Z" fill="#155e75" stroke="#ffffff" stroke-width="0.3" stroke-opacity="0.4"/>
<path d="M955.4,243.3L958.1,242.3L961.5,241.9L962.5,240.9L964.2,242.1L966.2,242.5L968.2,243.0L967.6,244.4L966.1,245.7L967.0,246.7L967.5,248.2L966.0,249.0L964.5,248.6L963.1,249.6L961.8,249.6L958.2,248.6L958.8,246.0L957.2,244.5Z" fill="#0e7490" stroke="#ffffff" stroke-width="0.3" stroke-opacity="0.4"/>
<path d="M951.0,249.0L952.0,248.2L956.0,248.6L958.2,248.6L961.8,249.6L963.2,250.1L960.8,251.0L960.0,252.1L959.3,254.4L957.8,255.3L954.6,256.0L953.5,255.1L952.6,254.8L953.0,253.8L952.6,252.3L953.0,250.5L951.3,249.9Z" fill="#0891b2" stroke="#ffffff" stroke-width="0.3" stroke-opacity="0.4"/>
<path d="M951.3,249.9L953.0,250.5L952.6,252.3L953.0,253.8L952.6,254.8L951.1,255.0L951.2,253.5L950.5,253.0L951.3,251.2Z" fill="#22d3ee" stroke="#ffffff" stroke-width="0.3" stroke-opacity="0.4"/>
<path d="M962.5,240.9L963.4,240.5L964.7,238.9L967.0,238.5L967.0,239.8L966.0,241.2L966.2,242.5L964.2,242.1Z" fill="#0e7490" stroke="#ffffff" stroke-width="0.3" stroke-opacity="0.4"/>
<path d="M967.0,238.5L968.6,237.1L970.0,237.2L971.0,238.0L974.1,238.2L974.6,239.4L975.0,240.9L972.3,241.7L973.8,243.2L972.9,244.4L970.5,244.5L967.6,244.4L968.2,243.0L966.2,242.5L966.0,241.2L967.0,239.8Z" fill="#164e63" stroke="#ffffff" stroke-width="0.3" stroke-opacity="0.4"/>
<path d="M966.1,245.7L967.6,244.4L969.6,244.5L970.4,245.4L968.5,246.0L967.0,246.1Z" fill="#0891b2" stroke="#ffffff" stroke-width="0.3" stroke-opacity="0.4"/>
<path d="M969.6,244.5L972.9,244.4L973.8,243.2L976.9,243.4L977.0,244.3L976.1,245.2L973.7,245.5L970.4,245.4Z" fill="#22d3ee" stroke="#ffffff" stroke-width="0.3" stroke-opacity="0.4"/>
<path d="M967.0,246.1L968.5,246.0L970.4,245.4L973.7,245.5L973.6,246.4L972.3,247.4L972.6,248.0L974.0,249.4L976.0,250.1L978.5,251.9L977.0,252.9L976.5,254.0L975.7,254.0L976.0,252.5L975.5,251.9L972.3,250.2L971.0,249.5L970.2,248.1L968.7,247.6L967.5,248.2L967.0,246.7Z" fill="#67e8f9" stroke="#ffffff" stroke-width="0.3" stroke-opacity="0.4"/>
<path d="M972.4,254.0L975.6,253.8L975.0,255.3Z" fill="#67e8f9" stroke="#ffffff" stroke-width="0.3" stroke-opacity="0.4"/>
<path d="M968.4,253.0L969.8,251.1L969.2,250.7L968.2,251.1Z" fill="#67e8f9" stroke="#ffffff" stroke-width="0.3" stroke-opacity="0.4"/>
<path d="M974.1,238.2L978.0,237.2L983.5,238.0L983.6,239.5L984.0,241.5L982.5,242.9L979.0,242.5L975.0,240.9L974.6,239.4Z" fill="#3fd0ea" stroke="#ffffff" stroke-width="0.3" stroke-opacity="0.4"/>
<path d="M972.3,241.7L975.0,240.9L979.0,242.5L982.5,242.9L982.1,243.6L982.9,244.1L981.0,245.8L978.8,246.1L976.1,245.2L977.0,244.3L976.9,243.4L973.8,243.2Z" fill="#67e8f9" stroke="#ffffff" stroke-width="0.3" stroke-opacity="0.4"/>
<path d="M981.0,235.2L981.1,236.5L983.5,238.0L985.8,237.7L986.6,236.4L988.2,235.8L987.7,234.7L988.0,232.5L984.0,232.6L983.4,233.5L981.6,234.6Z" fill="#164e63" stroke="#ffffff" stroke-width="0.3" stroke-opacity="0.4"/>
<path d="M983.5,238.0L983.6,239.5L984.0,240.4L987.0,240.3L990.5,240.7L991.8,239.9L992.7,238.7L991.0,238.0L990.5,236.2L988.2,235.8L986.6,236.4L985.8,237.7Z" fill="#164e63" stroke="#ffffff" stroke-width="0.3" stroke-opacity="0.4"/>
<path d="M984.0,240.4L984.0,241.5L982.5,242.9L982.9,244.1L984.9,244.3L986.6,243.8L988.2,244.1L989.7,246.4L991.7,245.7L993.5,247.0L995.3,247.4L996.5,246.7L995.0,245.7L998.2,244.9L1000.0,244.2L1000.2,242.4L998.0,242.0L995.4,241.4L994.0,239.7L992.7,238.7L991.8,239.9L990.5,240.7L987.0,240.3Z" fill="#0e7490" stroke="#ffffff" stroke-width="0.3" stroke-opacity="0.4"/>
<path d="M982.9,244.1L984.9,244.3L986.6,243.8L988.2,244.1L989.7,246.4L988.6,248.3L987.2,247.8L982.7,247.8L981.0,245.8Z" fill="#67e8f9" stroke="#ffffff" stroke-width="0.3" stroke-opacity="0.4"/>
<path d="M973.6,246.4L976.1,245.2L978.8,246.1L981.0,245.8L982.7,247.8L982.4,249.7L980.6,250.9L979.4,250.1L978.5,249.5L976.0,248.5L974.5,246.8Z" fill="#67e8f9" stroke="#ffffff" stroke-width="0.3" stroke-opacity="0.4"/>
<path d="M982.7,247.8L987.2,247.8L988.6,248.3L987.8,250.0L986.1,250.3L982.9,250.7L982.4,249.7Z" fill="#a5f3fc" stroke="#ffffff" stroke-width="0.3" stroke-opacity="0.4"/>
<path d="M980.2,252.4L980.6,250.9L982.9,250.7L986.1,250.3L986.3,251.1L983.4,252.0L984.0,254.0L982.7,255.5L981.5,254.7L981.0,253.7Z" fill="#0e7490" stroke="#ffffff" stroke-width="0.3" stroke-opacity="0.4"/>
<path d="M986.1,250.3L988.0,250.0L991.3,250.8L995.0,250.0L998.3,251.1L1001.5,250.5L1003.6,250.9L1004.8,252.3L1004.3,254.8L1002.4,254.9L998.7,255.3L996.2,255.4L996.0,256.1L992.5,255.9L990.6,255.3L988.0,255.3L986.2,252.5Z" fill="#e4e4e7" stroke="#ffffff" stroke-width="0.3" stroke-opacity="0.4"/>
<path d="M1001.5,250.5L1006.6,250.2L1008.6,250.2L1009.5,251.7L1008.9,253.6L1007.7,252.5L1004.8,252.3L1003.6,250.9Z" fill="#0e7490" stroke="#ffffff" stroke-width="0.3" stroke-opacity="0.4"/>
<path d="M988.2,235.8L990.5,236.2L991.0,238.0L992.7,238.7L994.0,239.7L995.4,241.4L998.0,242.0L1000.2,242.4L1000.0,244.2L998.2,244.9L999.5,245.0L997.5,247.3L1000.0,248.6L1002.4,248.8L1004.5,249.3L1006.6,250.2L1008.6,250.2L1007.5,248.5L1007.3,247.0L1008.6,245.4L1007.3,244.3L1006.5,243.5L1007.0,242.5L1008.6,241.4L1011.0,240.4L1015.0,241.3L1017.5,241.0L1021.0,241.1L1021.5,239.5L1020.5,238.2L1021.6,238.0L1025.2,237.4L1029.0,236.6L1031.2,237.9L1033.5,238.0L1036.5,237.6L1040.0,241.0L1042.5,241.2L1045.0,242.1L1047.2,242.5L1047.8,242.7L1049.7,242.4L1052.0,241.4L1057.8,242.1L1058.0,240.0L1062.0,240.7L1062.3,241.5L1066.8,241.7L1068.5,242.7L1071.5,242.6L1074.4,241.8L1076.7,242.1L1077.9,242.5L1079.3,241.9L1080.2,240.1L1082.8,238.5L1086.8,239.2L1088.0,242.4L1090.6,243.3L1091.1,244.2L1094.5,244.0L1093.1,246.9L1091.3,247.2L1090.7,249.5L1093.2,249.2L1095.5,248.1L1098.2,245.7L1099.8,244.1L1100.5,242.0L1100.5,240.0L1101.4,238.7L1098.5,238.1L1095.2,237.3L1097.2,236.0L1100.5,234.0L1103.0,232.7L1108.5,232.7L1112.5,233.0L1114.2,232.3L1116.5,230.5L1119.5,230.3L1120.0,231.5L1125.0,231.7L1130.5,232.0L1133.0,230.5L1137.5,229.5L1139.2,229.7L1140.0,229.5L1140.0,226.9L993.0,226.9L990.0,227.0L990.0,228.0L991.5,229.2L988.0,231.5L988.0,232.5L987.7,234.7Z" fill="#164e63" stroke="#ffffff" stroke-width="0.3" stroke-opacity="0.4"/>
<path d="M1116.5,234.5L1115.9,236.0L1116.5,239.0L1118.3,240.1L1120.0,238.8L1121.7,236.7L1122.0,235.9L1123.0,234.3L1123.5,232.1L1120.5,231.5L1118.0,233.5Z" fill="#164e63" stroke="#ffffff" stroke-width="0.3" stroke-opacity="0.4"/>
<path d="M1102.0,246.0L1102.5,243.0L1103.0,237.7L1103.3,239.5L1103.0,243.0L1104.0,243.0L1102.5,245.5Z" fill="#164e63" stroke="#ffffff" stroke-width="0.3" stroke-opacity="0.4"/>
<path d="M979.9,237.1L982.8,237.1L982.7,237.7L979.6,237.6Z" fill="#164e63" stroke="#ffffff" stroke-width="0.3" stroke-opacity="0.4"/>
<path d="M993.0,225.5L995.0,225.7L1001.0,225.5L1001.0,224.2L996.5,222.9L993.0,222.7L991.0,222.9Z" fill="#164e63" stroke="#ffffff" stroke-width="0.3" stroke-opacity="0.4"/>
<path d="M1028.5,222.9L1028.5,220.1L1029.2,219.0L1032.8,219.8L1032.5,221.0L1033.5,222.9Z" fill="#164e63" stroke="#ffffff" stroke-width="0.3" stroke-opacity="0.4"/>
<path d="M1033.5,222.9L1035.7,219.7L1040.5,218.4L1046.8,218.1L1046.5,217.6L1048.0,216.9L1052.0,216.8L1058.0,216.0L1060.0,215.6L1064.5,214.3L1068.0,215.3L1073.0,216.1L1073.5,218.6L1078.0,218.4L1085.0,218.5L1088.6,219.2L1090.0,221.0L1095.5,220.3L1100.0,219.6L1107.0,219.7L1112.0,221.1L1119.7,221.2L1121.0,222.4L1126.0,222.5L1130.5,221.9L1136.0,222.2L1140.0,222.9Z" fill="#164e63" stroke="#ffffff" stroke-width="0.3" stroke-opacity="0.4"/>
<path d="M1053.0,212.8L1057.0,211.2L1064.0,212.7L1060.0,213.8L1055.0,213.2Z" fill="#164e63" stroke="#ffffff" stroke-width="0.3" stroke-opacity="0.4"/>
<path d="M1012.0,220.5L1015.5,219.0L1016.0,217.0L1021.0,215.7L1028.5,215.0L1026.0,216.5L1018.0,219.0L1016.0,221.0Z" fill="#164e63" stroke="#ffffff" stroke-width="0.3" stroke-opacity="0.4"/>
<path d="M1005.0,211.5L1010.0,211.0L1020.0,211.0L1024.0,211.5L1015.0,212.2Z" fill="#164e63" stroke="#ffffff" stroke-width="0.3" stroke-opacity="0.4"/>
<path d="M1096.0,217.0L1102.0,216.0L1110.0,216.5L1106.0,217.2Z" fill="#164e63" stroke="#ffffff" stroke-width="0.3" stroke-opacity="0.4"/>
<path d="M970.5,213.5L972.0,212.2L978.0,211.8L987.0,212.0L982.0,213.5L976.5,215.5L974.0,214.5Z" fill="#0e7490" stroke="#ffffff" stroke-width="0.3" stroke-opacity="0.4"/>
<rect x="1012.00" y="220.00" width="108.00" height="2.75" fill="#5f8797"/>
<rect x="1120.00" y="220.00" width="18.50" height="2.75" fill="#c0d0d6"/>
<path d="M1007.3,244.3L1008.6,245.4L1011.2,247.0L1013.0,246.7L1012.5,250.0L1014.9,251.1L1015.9,250.7L1016.0,247.0L1018.5,246.4L1021.0,247.6L1022.2,248.5L1024.9,248.3L1026.1,249.1L1028.6,251.3L1030.6,250.0L1031.2,249.3L1033.5,249.5L1034.2,248.7L1039.2,249.1L1040.3,247.0L1042.5,246.5L1043.2,244.7L1045.5,244.9L1047.2,242.5L1045.0,242.1L1042.5,241.2L1040.0,241.0L1036.5,237.6L1033.5,238.0L1031.2,237.9L1029.0,236.6L1025.2,237.4L1021.6,238.0L1020.5,238.2L1021.5,239.5L1021.0,241.1L1017.5,241.0L1015.0,241.3L1011.0,240.4L1008.6,241.4L1007.0,242.5L1006.5,243.5Z" fill="#164e63" stroke="#ffffff" stroke-width="0.3" stroke-opacity="0.4"/>
<path d="M1012.7,252.0L1013.8,253.0L1014.0,255.1L1016.0,254.0L1020.0,254.5L1021.2,255.4L1024.5,254.9L1026.5,254.6L1026.0,253.5L1022.0,251.5L1020.0,250.0L1018.0,249.5L1016.0,250.7L1014.9,251.1L1012.5,250.0L1012.8,251.0Z" fill="#2cc8e3" stroke="#ffffff" stroke-width="0.3" stroke-opacity="0.4"/>
<path d="M1016.0,247.0L1018.5,246.4L1021.0,247.6L1022.2,248.5L1024.9,248.3L1026.1,249.1L1028.6,251.3L1030.6,250.0L1031.2,249.3L1033.0,252.0L1030.0,253.0L1027.0,254.6L1026.0,253.5L1022.0,251.5L1020.0,250.0L1016.0,250.7Z" fill="#e4e4e7" stroke="#ffffff" stroke-width="0.3" stroke-opacity="0.4"/>
<path d="M1030.6,250.0L1031.2,249.3L1033.5,249.5L1034.2,248.7L1039.2,249.1L1040.2,250.0L1036.0,251.6L1034.9,254.6L1031.5,255.5L1030.0,254.4L1027.0,254.6L1030.0,253.0L1033.0,252.0Z" fill="#3fcde8" stroke="#ffffff" stroke-width="0.3" stroke-opacity="0.4"/>
<path d="M1047.8,242.7L1049.7,242.4L1052.0,241.4L1057.8,242.1L1058.0,240.0L1062.0,240.7L1062.3,241.5L1066.8,241.7L1068.5,242.7L1071.5,242.6L1074.4,241.8L1076.7,242.1L1077.5,244.0L1075.5,244.3L1079.7,245.0L1078.0,245.5L1073.0,247.2L1071.3,247.5L1070.0,249.4L1065.0,250.4L1060.0,249.4L1056.3,249.3L1055.3,247.8L1051.0,246.7L1050.6,244.5Z" fill="#0e7f9e" stroke="#ffffff" stroke-width="0.3" stroke-opacity="0.4"/>
<path d="M1033.5,252.5L1034.9,254.6L1036.0,251.6L1040.2,250.0L1039.2,249.1L1040.3,247.0L1042.5,246.5L1043.2,244.7L1045.5,244.9L1047.2,242.5L1047.8,242.7L1050.6,244.5L1051.0,246.7L1055.3,247.8L1056.3,249.3L1060.0,249.4L1065.0,250.4L1070.0,249.4L1071.3,247.5L1073.0,247.2L1078.0,245.5L1079.7,245.0L1075.5,244.3L1077.5,244.0L1076.7,242.1L1077.9,242.5L1079.3,241.9L1080.2,240.1L1082.8,238.5L1086.8,239.2L1088.0,242.4L1090.6,243.3L1091.1,244.2L1094.5,244.0L1093.1,246.9L1091.3,247.2L1090.7,249.5L1089.5,249.6L1088.0,250.5L1086.0,252.0L1084.0,252.2L1081.5,251.1L1079.0,252.8L1078.0,253.5L1079.0,254.8L1082.5,255.0L1080.0,257.0L1081.9,260.3L1082.0,262.2L1079.5,266.5L1076.5,269.0L1071.0,270.5L1068.5,270.3L1066.7,269.2L1063.5,269.4L1061.7,269.5L1060.0,270.5L1058.7,268.0L1057.5,266.7L1058.5,264.5L1057.0,264.0L1052.0,264.1L1049.0,264.0L1046.0,264.0L1041.5,261.8L1039.0,261.0L1038.8,259.0L1037.8,256.5L1035.5,255.0L1034.5,255.0Z" fill="#5fdcf2" stroke="#ffffff" stroke-width="0.3" stroke-opacity="0.4"/>
<path d="M1068.6,272.8L1070.0,271.9L1071.0,272.4L1069.5,273.8Z" fill="#5fdcf2" stroke="#ffffff" stroke-width="0.3" stroke-opacity="0.4"/>
<path d="M1080.1,269.0L1081.0,266.8L1082.0,267.0L1080.8,270.0Z" fill="#e4e4e7" stroke="#ffffff" stroke-width="0.3" stroke-opacity="0.4"/>
<path d="M1084.5,252.0L1086.0,252.0L1088.0,250.5L1089.5,249.6L1090.7,249.5L1089.7,251.1L1088.0,253.0L1089.4,255.0L1089.3,256.8L1086.5,257.6L1086.2,255.3L1086.0,254.3L1085.0,254.1L1085.2,252.5Z" fill="#e4e4e7" stroke="#ffffff" stroke-width="0.3" stroke-opacity="0.4"/>
<path d="M1090.9,258.1L1091.5,257.4L1093.5,256.5L1096.0,256.1L1097.0,255.0L1100.0,252.5L1100.0,250.7L1101.5,250.7L1102.0,252.5L1101.0,254.5L1100.8,256.5L1099.5,257.1L1098.0,257.4L1096.8,257.7L1095.1,258.3L1092.5,257.9Z" fill="#155e75" stroke="#ffffff" stroke-width="0.3" stroke-opacity="0.4"/>
<path d="M1100.0,250.0L1101.5,246.6L1105.5,248.7L1103.5,250.0L1101.0,250.2Z" fill="#155e75" stroke="#ffffff" stroke-width="0.3" stroke-opacity="0.4"/>
<path d="M1089.7,258.7L1091.0,258.1L1092.0,259.0L1091.0,260.8L1090.2,260.7Z" fill="#155e75" stroke="#ffffff" stroke-width="0.3" stroke-opacity="0.4"/>
<path d="M1092.5,259.0L1094.7,257.8L1094.7,258.8L1093.0,259.3Z" fill="#155e75" stroke="#ffffff" stroke-width="0.3" stroke-opacity="0.4"/>
<path d="M996.5,262.7L997.5,261.0L999.2,259.9L1002.0,260.9L1004.7,262.8L1006.5,262.9L1008.0,264.0L1009.5,265.5L1010.8,267.2L1012.0,269.0L1015.5,270.0L1015.2,272.0L1012.0,273.0L1008.2,274.5L1006.4,274.8L1003.3,274.6L1002.7,275.5L1001.0,272.0L999.1,270.5L998.2,267.8L996.4,265.5L995.0,263.9L994.9,262.5Z" fill="#164e63" stroke="#ffffff" stroke-width="0.3" stroke-opacity="0.4"/>
<path d="M1002.7,275.5L1003.3,274.6L1006.4,274.8L1008.2,274.5L1012.0,273.0L1012.2,276.0L1009.0,278.0L1005.0,279.3L1003.5,279.3Z" fill="#8ee5f5" stroke="#ffffff" stroke-width="0.3" stroke-opacity="0.4"/>
<path d="M1015.2,272.0L1015.5,270.0L1016.4,267.1L1018.5,268.4L1019.8,269.6L1017.8,273.0L1015.0,275.0L1012.2,276.0L1012.0,273.0Z" fill="#22c5e0" stroke="#ffffff" stroke-width="0.3" stroke-opacity="0.4"/>
<path d="M1011.5,267.7L1015.5,270.0L1016.4,267.1L1015.5,266.4L1014.0,267.8Z" fill="#22d3ee" stroke="#ffffff" stroke-width="0.3" stroke-opacity="0.4"/>
<path d="M999.2,259.9L1002.0,260.9L1004.7,262.8L1006.5,262.9L1008.0,262.0L1008.5,262.0L1007.7,260.6L1006.0,259.0L1005.4,256.1L1004.8,254.8L1002.4,254.9L1001.0,257.6L998.8,258.6Z" fill="#3fcde8" stroke="#ffffff" stroke-width="0.3" stroke-opacity="0.4"/>
<path d="M995.8,259.3L996.0,256.1L996.2,255.4L998.7,255.3L1002.4,254.9L1001.0,257.6L998.8,258.6L999.2,259.9L997.5,261.0L996.5,262.7L995.0,262.5L995.5,260.5Z" fill="#67e8f9" stroke="#ffffff" stroke-width="0.3" stroke-opacity="0.4"/>
<path d="M1004.3,254.8L1004.8,252.3L1007.7,252.5L1008.9,253.6L1011.0,255.2L1014.0,255.1L1016.0,254.0L1020.0,254.5L1021.2,255.4L1020.5,258.3L1020.9,260.5L1021.7,260.7L1022.8,263.7L1023.3,265.2L1021.6,266.8L1017.3,266.1L1016.5,264.9L1014.8,265.5L1011.5,264.1L1010.1,261.9L1008.5,262.0L1007.7,260.6L1006.0,259.0L1005.4,256.1L1004.8,254.8Z" fill="#3fcde8" stroke="#ffffff" stroke-width="0.3" stroke-opacity="0.4"/>
<path d="M1021.2,255.4L1024.5,254.9L1027.0,254.6L1030.0,254.4L1031.5,255.5L1031.0,257.5L1029.5,258.5L1029.3,260.1L1026.3,262.1L1022.8,262.6L1020.9,262.2L1021.7,260.7L1020.9,260.5L1020.5,258.3Z" fill="#ecfeff" stroke="#ffffff" stroke-width="0.3" stroke-opacity="0.4"/>
<path d="M1021.6,266.8L1023.3,265.2L1022.8,263.7L1022.8,262.6L1026.3,262.1L1029.3,260.1L1029.5,258.5L1031.0,257.5L1031.5,255.5L1034.5,255.0L1037.8,256.5L1035.5,259.5L1034.5,261.1L1031.8,264.1L1030.5,266.3L1031.0,267.7L1028.8,267.7L1026.5,266.6Z" fill="#cffafe" stroke="#ffffff" stroke-width="0.3" stroke-opacity="0.4"/>
<path d="M1028.8,267.7L1031.0,267.7L1030.5,266.3L1031.8,264.1L1034.5,261.1L1035.5,259.5L1037.8,256.5L1040.0,259.0L1038.8,260.7L1041.0,261.8L1044.0,263.4L1048.0,264.6L1048.2,265.4L1052.0,265.2L1055.2,264.2L1057.0,264.0L1055.0,266.2L1053.4,268.0L1052.6,270.5L1052.0,268.4L1049.0,270.0L1046.5,271.8L1045.0,272.5L1042.3,275.0L1040.3,276.1L1040.2,279.0L1039.8,281.7L1037.5,284.0L1036.5,283.0L1034.6,279.0L1033.5,276.0L1032.8,272.8L1032.6,270.6L1030.5,271.1L1029.0,269.5Z" fill="#3ccbe6" stroke="#ffffff" stroke-width="0.3" stroke-opacity="0.4"/>
<path d="M1048.2,265.4L1052.0,265.2L1052.6,270.5L1052.0,268.4L1049.0,270.0Z" fill="#a5f3fc" stroke="#ffffff" stroke-width="0.3" stroke-opacity="0.4"/>
<path d="M1039.8,282.2L1041.8,284.5L1041.0,286.0L1039.9,285.2Z" fill="#cffafe" stroke="#ffffff" stroke-width="0.3" stroke-opacity="0.4"/>
<path d="M1040.1,261.5L1044.0,263.4L1048.0,264.6L1048.2,265.4L1045.0,265.4L1041.0,263.5Z" fill="#a5f3fc" stroke="#ffffff" stroke-width="0.3" stroke-opacity="0.4"/>
<path d="M1052.6,270.5L1053.4,268.0L1055.0,266.2L1057.0,264.0L1058.5,264.5L1057.5,266.7L1058.7,268.0L1060.0,270.5L1061.0,270.8L1060.1,271.6L1058.0,272.3L1057.8,274.4L1058.6,276.5L1058.3,279.0L1059.0,282.0L1058.5,282.0L1057.7,275.5L1054.3,276.0L1054.2,273.2L1052.4,271.3Z" fill="#a5f3fc" stroke="#ffffff" stroke-width="0.3" stroke-opacity="0.4"/>
<path d="M1057.8,274.4L1058.0,272.3L1060.1,271.6L1061.0,272.5L1062.1,273.9L1064.7,274.6L1065.6,276.5L1062.5,279.7L1061.0,279.3L1059.3,282.7L1060.5,284.5L1061.0,285.5L1060.2,285.5L1058.5,283.6L1058.3,279.0L1058.6,276.5Z" fill="#cffafe" stroke="#ffffff" stroke-width="0.3" stroke-opacity="0.4"/>
<path d="M1060.0,270.5L1061.7,269.5L1062.2,269.6L1064.5,273.5L1066.5,276.0L1067.5,277.5L1066.0,281.5L1063.0,280.5L1062.5,279.7L1065.6,276.5L1064.7,274.6L1062.1,273.9L1061.0,272.5L1060.1,271.6L1061.0,270.8Z" fill="#cffafe" stroke="#ffffff" stroke-width="0.3" stroke-opacity="0.4"/>
<path d="M1062.2,269.6L1063.5,269.4L1066.7,269.2L1068.5,270.3L1066.5,272.5L1065.8,273.0L1067.5,275.5L1069.0,277.2L1069.3,280.2L1068.0,281.5L1065.0,283.4L1064.8,281.5L1066.0,281.5L1067.5,277.5L1066.5,276.0L1064.5,273.5Z" fill="#0891b2" stroke="#ffffff" stroke-width="0.3" stroke-opacity="0.4"/>
<path d="M1060.2,285.5L1061.0,285.5L1062.0,285.8L1063.4,287.2L1063.4,289.2L1064.3,290.5L1063.5,290.7L1061.3,289.2L1060.4,287.2Z" fill="#1fb5d6" stroke="#ffffff" stroke-width="0.3" stroke-opacity="0.4"/>
<path d="M1069.0,290.5L1070.5,290.3L1072.0,289.0L1073.5,288.2L1075.5,287.0L1077.0,285.0L1079.0,286.7L1078.0,287.7L1077.7,290.7L1079.0,291.1L1077.5,293.0L1076.6,294.3L1076.0,295.8L1074.5,295.5L1071.7,295.0L1070.1,293.8L1069.0,291.8Z" fill="#a5f3fc" stroke="#ffffff" stroke-width="0.3" stroke-opacity="0.4"/>
<path d="M1069.6,290.0L1070.5,290.3L1072.0,289.0L1073.5,288.2L1075.5,287.0L1077.0,285.0L1079.0,286.7L1078.0,287.7L1077.4,287.8L1075.5,288.0L1074.5,290.5L1072.0,290.7L1070.0,291.0Z" fill="#1fb5d6" stroke="#ffffff" stroke-width="0.3" stroke-opacity="0.4"/>
<path d="M1055.3,286.5L1057.5,286.8L1060.4,289.8L1063.8,291.1L1064.5,293.0L1066.0,295.0L1065.8,297.8L1064.5,297.9L1062.5,296.0L1060.9,294.7L1059.5,292.0L1058.6,290.3L1057.2,288.7Z" fill="#a5f3fc" stroke="#ffffff" stroke-width="0.3" stroke-opacity="0.4"/>
<path d="M1065.2,298.8L1066.0,297.9L1068.5,298.4L1071.0,298.4L1072.6,298.9L1074.5,299.8L1074.5,300.7L1071.0,300.2L1068.7,299.8L1066.5,299.4Z" fill="#a5f3fc" stroke="#ffffff" stroke-width="0.3" stroke-opacity="0.4"/>
<path d="M1079.5,297.5L1080.4,297.5L1081.0,294.6L1083.5,293.0L1085.0,290.5L1084.0,291.1L1080.2,291.6L1080.0,292.5L1079.0,295.5Z" fill="#a5f3fc" stroke="#ffffff" stroke-width="0.3" stroke-opacity="0.4"/>
<path d="M1075.0,300.4L1079.0,300.2L1083.0,300.5L1087.0,300.3L1084.0,302.2L1079.0,301.5Z" fill="#a5f3fc" stroke="#ffffff" stroke-width="0.3" stroke-opacity="0.4"/>
<path d="M1080.5,273.5L1082.3,273.5L1082.0,275.0L1081.6,276.2L1084.0,279.0L1083.3,279.1L1080.6,277.7L1080.0,275.5Z" fill="#3ccbe6" stroke="#ffffff" stroke-width="0.3" stroke-opacity="0.4"/>
<path d="M1082.0,285.0L1083.5,283.4L1085.5,282.2L1086.5,284.7L1085.4,286.4L1084.0,285.5Z" fill="#3ccbe6" stroke="#ffffff" stroke-width="0.3" stroke-opacity="0.4"/>
<path d="M1082.0,282.0L1084.5,279.5L1085.5,281.0L1083.0,282.8Z" fill="#3ccbe6" stroke="#ffffff" stroke-width="0.3" stroke-opacity="0.4"/>
<path d="M1091.0,293.5L1094.0,292.8L1098.0,293.6L1101.0,294.6L1101.0,301.1L1099.0,300.1L1098.0,300.3L1097.5,297.4L1095.2,296.5L1093.0,296.0L1092.0,294.8Z" fill="#a5f3fc" stroke="#ffffff" stroke-width="0.3" stroke-opacity="0.4"/>
<path d="M1101.0,294.6L1104.5,295.8L1106.0,297.5L1107.5,298.0L1107.3,299.8L1109.6,301.2L1110.8,302.3L1108.0,302.2L1106.0,300.2L1104.0,299.7L1103.0,301.1L1101.0,301.1Z" fill="#67e8f9" stroke="#ffffff" stroke-width="0.3" stroke-opacity="0.4"/>
<path d="M1110.0,297.5L1112.0,296.0L1112.4,297.5L1110.5,298.2Z" fill="#67e8f9" stroke="#ffffff" stroke-width="0.3" stroke-opacity="0.4"/>
<path d="M1115.0,298.5L1117.0,299.5L1120.0,301.0L1122.0,302.5L1119.0,301.7Z" fill="#67e8f9" stroke="#ffffff" stroke-width="0.3" stroke-opacity="0.4"/>
<path d="M1073.3,314.0L1074.0,318.3L1075.0,322.0L1075.0,325.6L1077.0,327.0L1079.5,326.0L1083.5,325.9L1086.0,324.2L1089.0,323.6L1091.3,323.5L1094.3,324.6L1095.7,326.9L1097.7,325.0L1097.9,327.5L1099.6,328.2L1100.6,330.0L1103.5,330.8L1106.3,331.1L1108.0,329.8L1110.0,329.4L1110.1,327.7L1111.3,325.5L1113.0,323.5L1113.6,320.2L1113.1,317.3L1110.9,314.7L1109.0,312.5L1106.4,310.9L1105.4,308.3L1105.3,306.9L1103.7,306.0L1103.3,303.5L1102.5,302.7L1101.7,304.7L1101.5,308.3L1100.6,309.6L1099.3,309.4L1096.7,307.9L1095.5,306.8L1096.9,304.4L1096.0,303.9L1093.0,303.4L1091.0,304.2L1090.1,305.0L1089.5,306.9L1087.9,306.5L1086.0,306.1L1084.4,308.4L1082.3,309.6L1081.3,311.5L1078.9,312.3L1076.7,312.6L1074.7,313.8Z" fill="#164e63" stroke="#ffffff" stroke-width="0.3" stroke-opacity="0.4"/>
<path d="M1104.7,332.7L1108.3,332.9L1108.0,335.2L1106.8,335.6L1105.3,334.3Z" fill="#164e63" stroke="#ffffff" stroke-width="0.3" stroke-opacity="0.4"/>
<path d="M1132.7,326.4L1134.3,327.7L1135.8,329.0L1138.5,329.7L1137.5,331.2L1136.4,332.5L1135.2,333.6L1134.6,333.3L1135.2,332.0L1133.8,331.1L1134.6,329.5L1133.0,327.0Z" fill="#164e63" stroke="#ffffff" stroke-width="0.3" stroke-opacity="0.4"/>
<path d="M1132.8,332.5L1134.3,333.3L1133.2,335.0L1131.2,336.5L1130.6,337.9L1129.0,338.6L1126.5,338.0L1127.0,337.0L1128.3,336.0L1130.5,335.0L1131.6,333.7Z" fill="#164e63" stroke="#ffffff" stroke-width="0.3" stroke-opacity="0.4"/>
<path d="M1124.0,312.2L1127.0,314.3L1125.0,313.5Z" fill="#a5f3fc" stroke="#ffffff" stroke-width="0.3" stroke-opacity="0.4"/>
<path d="M954.1,256.2L958.0,256.9L961.0,255.5L965.0,255.2L968.6,255.1L970.3,254.7L971.1,256.8L970.2,257.7L971.5,258.9L975.2,259.7L978.5,261.7L980.0,261.0L980.1,259.8L983.0,259.4L985.2,260.4L989.0,261.1L992.2,260.7L994.2,260.8L994.9,262.5L993.5,264.0L995.5,268.0L997.0,271.0L998.5,274.0L999.2,276.2L1001.2,277.5L1003.2,279.5L1004.5,281.6L1008.0,280.8L1011.1,280.1L1011.0,281.5L1009.7,285.2L1008.0,287.8L1006.0,290.0L1003.5,292.5L1001.5,293.8L999.5,296.5L999.2,299.0L999.5,302.0L1000.5,302.8L1000.5,307.0L997.0,310.0L995.0,312.5L995.5,316.0L992.9,318.0L992.5,320.5L991.0,321.9L988.0,325.0L985.5,326.0L982.5,326.0L980.0,326.8L978.3,326.0L977.9,323.5L976.3,320.6L975.2,319.0L974.3,314.6L971.7,309.8L971.8,307.8L972.5,305.5L973.7,302.8L973.0,300.0L972.2,298.0L972.3,296.6L971.0,295.8L969.2,293.0L969.5,291.0L969.5,288.2L968.5,287.5L965.9,287.7L964.3,285.7L961.8,285.8L958.0,287.2L955.4,286.8L952.5,287.7L951.0,287.0L948.6,285.1L947.0,283.7L945.2,281.2L943.4,279.8L942.8,277.3L943.5,275.9L943.7,272.5L942.9,271.0L943.0,269.5L945.5,266.0L946.8,264.4L950.2,262.4L950.4,260.0L953.2,257.9Z" fill="#e9fbfd" stroke="#ffffff" stroke-width="0.3" stroke-opacity="0.4"/>
<path d="M954.1,256.2L958.0,256.9L958.3,258.8L958.0,260.0L956.3,261.1L951.3,263.3L951.3,264.7L951.3,266.1L948.0,266.0L948.0,268.5L947.0,270.7L942.9,271.0L943.0,269.5L945.5,266.0L946.8,264.4L950.2,262.4L950.4,260.0L953.2,257.9Z" fill="#e4e4e7" stroke="#ffffff" stroke-width="0.3" stroke-opacity="0.4"/>
<path d="M958.0,256.9L961.0,255.5L965.0,255.2L968.6,255.1L968.3,257.4L967.5,258.7L969.5,261.7L969.8,265.5L971.9,268.5L967.5,271.1L965.8,272.6L964.3,272.8L963.2,272.9L961.2,271.3L955.1,267.0L951.3,264.7L951.3,263.3L956.3,261.1L958.0,260.0L958.3,258.8Z" fill="#7de3f5" stroke="#ffffff" stroke-width="0.3" stroke-opacity="0.4"/>
<path d="M968.6,255.1L970.3,254.7L971.1,256.8L970.2,257.7L971.5,258.9L970.3,260.5L969.5,261.7L967.5,258.7L968.3,257.4Z" fill="#67e8f9" stroke="#ffffff" stroke-width="0.3" stroke-opacity="0.4"/>
<path d="M985.0,260.4L989.0,261.1L992.2,260.7L994.2,260.8L994.9,262.5L993.5,264.0L995.5,268.0L996.9,270.0L991.3,270.0L985.0,270.0Z" fill="#22c5e0" stroke="#ffffff" stroke-width="0.3" stroke-opacity="0.4"/>
<path d="M985.0,270.0L996.9,270.0L998.5,274.0L997.0,275.0L996.5,277.7L994.0,282.5L995.3,286.5L993.4,288.4L990.0,288.4L987.5,287.0L983.9,283.4L982.9,280.6L982.3,278.0L984.0,276.3L984.0,272.0Z" fill="#b5f0f8" stroke="#ffffff" stroke-width="0.3" stroke-opacity="0.4"/>
<path d="M994.0,282.5L996.5,277.7L999.0,277.4L1002.4,279.4L1002.6,281.0L1004.0,283.0L1008.0,284.0L1005.0,287.0L1002.0,288.0L999.5,288.4L997.0,287.5L995.3,286.5Z" fill="#a8ebf7" stroke="#ffffff" stroke-width="0.3" stroke-opacity="0.4"/>
<path d="M996.5,277.7L997.0,275.0L998.5,274.0L999.2,276.2L1001.2,277.5L1003.2,279.5L1002.4,279.4L999.0,277.4Z" fill="#67e8f9" stroke="#ffffff" stroke-width="0.3" stroke-opacity="0.4"/>
<path d="M1002.6,281.0L1003.2,280.0L1011.1,280.1L1011.0,281.5L1009.7,285.2L1008.0,287.8L1006.0,290.0L1003.5,292.5L1001.5,293.8L1001.0,289.2L1002.0,288.0L1005.0,287.0L1008.0,284.0L1004.0,283.0Z" fill="#e4e4e7" stroke="#ffffff" stroke-width="0.3" stroke-opacity="0.4"/>
<path d="M995.3,286.5L997.0,287.5L999.5,288.4L1001.0,288.1L1001.0,289.2L1001.5,293.8L999.5,296.5L997.7,295.1L994.0,293.0L994.0,290.8L995.0,287.5Z" fill="#67e8f9" stroke="#ffffff" stroke-width="0.3" stroke-opacity="0.4"/>
<path d="M994.0,293.0L997.7,295.1L999.5,296.5L999.2,299.0L999.5,302.0L1000.5,302.8L998.0,303.3L995.0,303.5L994.5,301.5L991.0,300.5L990.0,298.3L989.5,296.5L990.7,293.0Z" fill="#cffafe" stroke="#ffffff" stroke-width="0.3" stroke-opacity="0.4"/>
<path d="M989.6,293.4L990.5,288.5L993.9,287.8L995.0,290.1L994.0,293.0L990.7,293.0Z" fill="#67e8f9" stroke="#ffffff" stroke-width="0.3" stroke-opacity="0.4"/>
<path d="M962.7,285.7L962.7,282.5L963.6,280.3L964.1,278.5L966.8,278.9L969.0,279.2L972.3,278.9L973.6,278.5L974.5,280.0L973.3,283.0L972.2,284.0L968.5,287.5L965.9,287.7L964.3,285.7Z" fill="#164e63" stroke="#ffffff" stroke-width="0.3" stroke-opacity="0.4"/>
<path d="M968.5,287.5L972.2,284.0L973.3,283.0L974.5,280.0L973.6,278.5L974.5,278.9L975.6,282.0L974.4,285.0L976.0,289.8L972.0,289.8L969.8,289.6L969.5,288.2Z" fill="#a5f3fc" stroke="#ffffff" stroke-width="0.3" stroke-opacity="0.4"/>
<path d="M969.8,289.6L972.0,289.8L973.3,289.8L974.5,294.0L971.5,296.0L969.2,293.0L969.5,291.0Z" fill="#e4e4e7" stroke="#ffffff" stroke-width="0.3" stroke-opacity="0.4"/>
<path d="M951.5,284.5L951.7,281.5L954.5,281.6L957.1,281.0L960.0,281.0L962.2,279.7L963.6,280.3L962.7,282.5L962.7,285.7L961.8,285.8L958.0,287.2L955.4,286.8L952.5,287.7Z" fill="#a5f3fc" stroke="#ffffff" stroke-width="0.3" stroke-opacity="0.4"/>
<path d="M943.4,279.8L942.8,277.3L943.5,275.9L946.0,275.4L948.5,276.7L949.0,279.6L951.7,281.5L951.5,284.5L951.0,287.0L948.6,285.1L947.0,283.7L945.2,281.2Z" fill="#cffafe" stroke="#ffffff" stroke-width="0.3" stroke-opacity="0.4"/>
<path d="M971.7,309.3L974.3,314.6L975.2,319.0L976.3,320.6L980.0,320.5L980.0,314.0L981.0,314.0L981.0,310.3L985.0,309.8L983.5,309.5L978.5,309.4L973.5,309.0Z" fill="#7de3f5" stroke="#ffffff" stroke-width="0.3" stroke-opacity="0.4"/>
<path d="M980.0,314.0L980.0,316.8L982.0,318.0L985.5,317.7L987.5,316.1L989.3,314.2L986.0,310.0L985.0,309.8L981.0,310.3L981.0,314.0Z" fill="#0891b2" stroke="#ffffff" stroke-width="0.3" stroke-opacity="0.4"/>
<path d="M976.3,320.6L977.9,323.5L978.3,326.0L980.0,326.8L982.5,326.0L985.5,326.0L988.0,325.0L991.0,321.9L992.5,320.5L992.9,318.8L991.9,317.9L991.3,314.3L989.3,314.2L987.5,316.1L985.5,317.7L982.0,318.0L980.0,316.8L980.0,320.5Z" fill="#164e63" stroke="#ffffff" stroke-width="0.3" stroke-opacity="0.4"/>
<path d="M987.0,321.5L989.4,321.0L989.2,322.3L988.0,322.6Z" fill="#f5feff" stroke="#ffffff" stroke-width="0.3" stroke-opacity="0.4"/>
<path d="M986.0,310.0L989.3,314.2L991.3,314.3L992.9,312.5L992.7,308.5L990.3,307.8L988.0,308.8Z" fill="#67e8f9" stroke="#ffffff" stroke-width="0.3" stroke-opacity="0.4"/>
<path d="M990.3,307.8L992.7,308.5L992.9,312.5L991.3,314.3L991.9,317.9L992.9,318.8L992.5,318.0L995.5,316.0L995.0,312.5L997.0,310.0L1000.5,307.0L1000.5,302.8L998.0,303.3L995.0,303.5L994.5,306.5L995.2,309.0L993.0,307.0L990.3,307.0Z" fill="#cffafe" stroke="#ffffff" stroke-width="0.3" stroke-opacity="0.4"/>
<path d="M1009.4,304.0L1010.5,307.5L1009.8,309.0L1007.5,316.5L1005.5,317.5L1003.7,315.5L1004.4,312.0L1004.0,309.5L1006.3,307.8L1008.0,305.5Z" fill="#a5f3fc" stroke="#ffffff" stroke-width="0.3" stroke-opacity="0.4"/>
<path d="M780.0,376.5L795.0,376.3L802.0,373.0L808.0,370.0L813.0,367.0L830.0,366.5L850.0,365.5L870.0,365.0L880.0,365.0L885.0,363.0L890.0,361.0L894.0,358.0L902.0,355.5L900.0,358.0L899.0,362.0L900.0,366.0L910.0,369.5L920.0,369.5L930.0,368.0L940.0,366.0L950.0,363.5L960.0,362.5L980.0,362.0L1000.0,361.0L1015.0,358.5L1030.0,359.0L1040.0,359.0L1050.0,358.5L1060.0,358.3L1105.0,358.5L1120.0,361.0L1131.0,363.6L1124.0,369.5L1138.0,376.2L1140.0,376.5Z" fill="#e4e4e7" stroke="#ffffff" stroke-width="0.3" stroke-opacity="0.4"/>
<rect x="779.00" y="308.00" width="361.00" height="1.00" fill="#9de6f3"/>
</svg>
</body></html>
